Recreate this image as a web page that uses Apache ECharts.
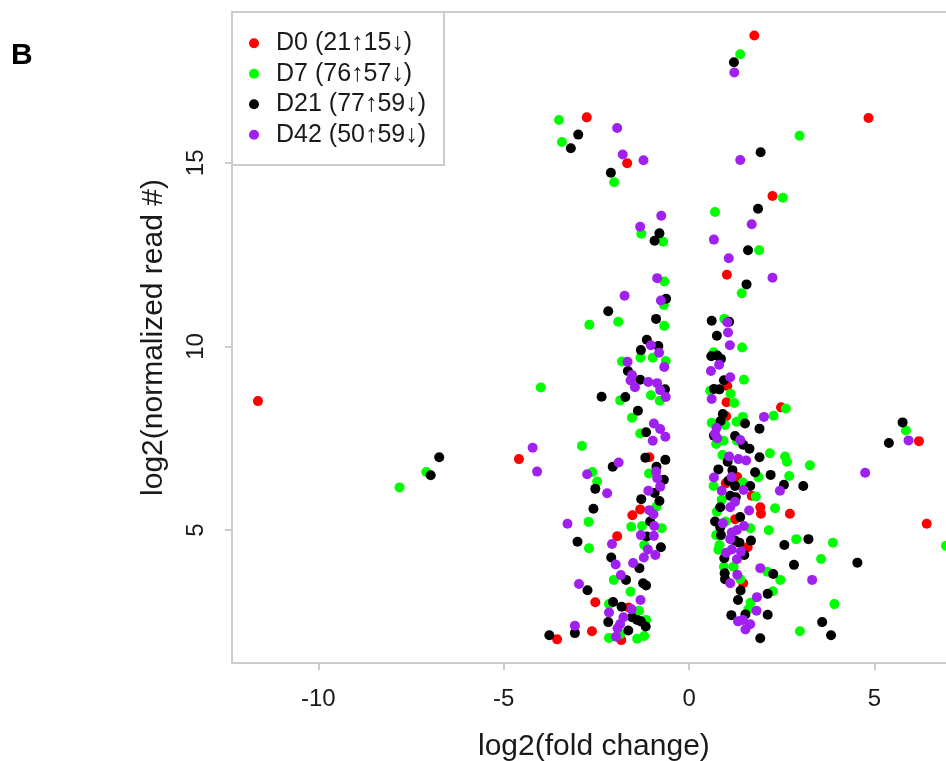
<!DOCTYPE html>
<html>
<head>
<meta charset="utf-8">
<script src="https://cdn.jsdelivr.net/npm/echarts@6/dist/echarts.min.js"></script>
<style>
html,body{margin:0;padding:0;background:#fff;}
#chart{width:946px;height:761px;}
</style>
</head>
<body>
<div id="chart"></div>
<script>
// Axis ticks
const xTicks = [-10, -5, 0, 5];
const yTicks = [5, 10, 15];
const seriesNames = ['D0 (21\u219115\u2193)', 'D7 (76\u219157\u2193)', 'D21 (77\u219159\u2193)', 'D42 (50\u219159\u2193)'];
const seriesColors = ['#FF0000', '#00FF00', '#000000', '#A020F0'];

// [log2 fold change, log2 normalized read #]
const d0 = [
  [1.76,18.47],[-2.76,16.24],[-1.67,14.99],[4.84,16.22],[2.25,14.10],[-11.63,8.51],[1.02,11.95],
  [1.03,8.92],[1.01,8.48],[2.48,8.34],[1.00,8.10],[6.20,7.42],[6.41,5.17],[-4.59,6.93],[-3.56,2.02],
  [-1.07,6.98],[-1.32,5.56],[-1.53,5.40],[-1.94,4.83],[-2.53,3.03],[-1.63,2.89],[-2.62,2.24],[-1.83,2.00],
  [1.30,6.44],[0.99,6.27],[1.69,5.93],[1.92,5.62],[1.94,5.44],[2.72,5.44],[1.24,5.29],[1.58,4.53],[1.46,3.55]
];
const d7 = [
  [1.38,17.96],[-3.51,16.17],[-3.43,15.57],[-2.02,14.47],[2.98,15.74],[2.53,14.05],[-1.29,13.07],[-0.70,12.85],
  [-0.67,11.77],[-0.68,11.13],[-2.69,10.59],[-1.91,10.67],[-0.67,10.56],[-1.31,9.69],[-0.98,9.69],[-1.81,9.59],
  [-0.63,9.60],[-1.86,8.53],[-1.03,8.67],[-0.79,8.52],[-1.54,8.06],[-1.32,7.63],[-2.89,7.29],[-4.00,8.88],
  [0.70,13.66],[1.89,12.62],[1.42,11.45],[0.95,10.75],[1.43,9.97],[0.66,9.84],[1.48,9.09],[0.57,8.79],
  [1.12,8.71],[1.22,8.46],[2.61,8.31],[0.61,7.92],[1.45,8.08],[1.28,7.95],[2.28,8.11],[0.97,7.86],
  [5.85,7.71],[6.93,4.57],[3.88,4.65],[3.56,4.21],[3.92,2.98],[-7.09,6.58],[-7.81,6.16],[-2.61,6.58],
  [-2.48,6.32],[-1.08,6.54],[-0.88,5.63],[-2.71,5.22],[-1.56,5.09],[-1.27,5.11],[-0.74,5.05],[-1.21,4.59],
  [-2.70,4.50],[-2.03,3.64],[-1.58,3.32],[-2.16,2.98],[-1.35,2.80],[-1.16,2.55],[-2.16,2.06],[-1.40,2.04],
  [-1.21,2.11],[-1.86,2.16],[0.73,7.34],[0.93,7.43],[1.29,7.43],[0.90,7.04],[2.18,7.09],[2.59,7.00],
  [2.64,6.86],[3.26,6.76],[1.87,6.44],[2.70,6.47],[0.66,6.20],[1.45,6.29],[1.80,5.91],[0.88,5.82],
  [2.32,5.59],[0.75,5.50],[0.99,5.23],[1.65,5.05],[2.15,4.99],[0.73,4.86],[2.89,4.75],[0.82,4.59],
  [0.79,4.46],[0.94,4.00],[1.20,4.00],[2.11,3.86],[2.46,3.64],[1.38,3.66],[2.26,3.33],[1.66,3.02],
  [1.60,2.84],[2.99,2.24]
];
const d21 = [
  [1.21,17.74],[-2.99,15.77],[-3.19,15.40],[-2.11,14.73],[1.93,15.29],[-0.80,13.08],[-0.93,12.88],[-0.62,11.30],
  [-2.18,10.96],[-0.89,10.75],[-1.14,10.18],[-0.83,10.01],[-1.30,9.90],[-1.65,9.33],[-1.32,9.09],[-0.65,8.83],
  [-2.36,8.63],[-1.72,8.62],[-1.38,8.25],[-1.16,7.66],[1.86,13.75],[1.59,12.62],[1.55,11.69],[0.61,10.70],
  [1.08,10.67],[0.75,10.29],[0.60,9.73],[0.76,9.75],[0.86,9.66],[0.94,9.08],[0.67,8.84],[0.82,8.83],
  [0.91,8.16],[0.85,7.97],[1.51,7.90],[1.90,7.76],[5.76,7.93],[5.39,7.37],[4.54,4.11],[3.59,2.49],
  [3.83,2.13],[-6.74,6.98],[-6.97,6.49],[-3.01,4.68],[-2.74,3.36],[-3.08,2.19],[-3.77,2.13],[-2.06,6.72],
  [-2.53,6.12],[-1.18,6.97],[-0.64,6.91],[-0.88,6.72],[-0.68,6.37],[-0.93,6.01],[-1.29,5.84],[-0.80,5.79],
  [-2.58,5.58],[-1.05,5.23],[-1.14,4.82],[-0.76,4.53],[-2.10,4.25],[-1.34,3.96],[-1.70,3.64],[-1.24,3.55],
  [-1.16,3.49],[-2.05,3.04],[-1.82,2.91],[-1.54,2.62],[-1.40,2.55],[-1.30,2.51],[-2.18,2.49],[-1.17,2.37],
  [-1.64,2.26],[0.67,7.57],[1.24,7.56],[1.46,7.32],[1.63,7.21],[1.04,6.86],[1.90,6.98],[0.79,6.65],
  [1.17,6.63],[1.78,6.57],[2.20,6.50],[1.06,6.34],[1.24,6.20],[1.65,6.20],[2.56,6.23],[3.08,6.20],
  [1.11,5.93],[1.26,5.89],[0.84,5.62],[1.38,5.35],[0.70,5.23],[0.84,5.07],[0.86,4.86],[1.67,4.71],
  [3.22,4.75],[1.24,4.71],[1.36,4.65],[2.57,4.59],[1.49,4.32],[0.95,4.23],[2.83,4.05],[2.27,3.80],
  [0.96,3.82],[0.97,3.66],[1.39,3.35],[2.12,3.26],[1.32,3.09],[2.12,2.69],[1.14,2.68],[1.52,2.70],
  [1.92,2.05]
];
const d42 = [
  [1.22,17.46],[-1.94,15.95],[-1.79,15.23],[-1.23,15.07],[1.38,15.08],[-0.75,13.56],[-1.32,13.26],[-0.86,11.86],
  [-1.74,11.38],[-0.76,11.25],[-1.03,10.03],[-0.81,9.83],[-1.66,9.58],[-0.67,9.44],[-1.54,9.22],[-1.58,9.07],
  [-1.10,9.03],[-0.86,9.00],[-1.46,8.89],[-0.78,8.81],[-0.63,8.62],[-0.95,7.90],[-0.78,7.75],[-0.64,7.54],
  [-0.98,7.43],[-4.22,7.24],[1.69,13.33],[0.67,12.91],[1.07,12.40],[2.25,11.87],[1.03,10.66],[1.05,10.38],
  [1.10,10.03],[0.81,9.50],[0.59,9.33],[1.11,9.16],[0.61,8.57],[2.02,8.08],[0.74,7.78],[5.92,7.44],
  [4.75,6.56],[-4.10,6.59],[-2.75,6.52],[-3.28,5.17],[-2.97,3.53],[-3.08,2.39],[-1.90,6.84],[-2.21,6.00],
  [-0.89,6.59],[-0.86,6.41],[-0.78,6.18],[-1.10,6.07],[-1.07,5.54],[-0.96,5.43],[-0.94,5.11],[-1.30,4.86],
  [-0.95,4.84],[-2.08,4.62],[-1.11,4.47],[-0.91,4.32],[-1.22,4.25],[-1.51,4.10],[-1.98,4.06],[-1.84,3.77],
  [-1.31,3.09],[-1.55,2.84],[-2.16,2.75],[-1.77,2.62],[-1.86,2.44],[-1.93,2.32],[-1.97,2.09],[0.70,7.62],
  [0.76,7.50],[1.38,7.45],[1.08,7.00],[1.33,6.93],[1.54,6.89],[0.67,6.43],[1.15,6.44],[2.45,6.07],
  [0.88,6.07],[1.47,6.09],[1.24,5.77],[1.11,5.62],[1.62,5.53],[0.91,5.18],[1.48,5.11],[1.29,5.00],
  [1.15,4.93],[1.11,4.75],[1.00,4.38],[1.15,4.47],[1.40,4.41],[1.29,4.20],[1.92,3.96],[1.30,3.78],
  [3.32,3.64],[1.11,3.55],[1.83,3.17],[1.82,2.80],[1.32,2.51],[1.45,2.55],[1.65,2.43],[1.52,2.29]
];
const allData = [d0, d7, d21, d42];

const FONT = "'Liberation Sans', Arial, sans-serif";
const GREY = '#cccccc';
const TXT = '#1a1a1a';

const chart = echarts.init(document.getElementById('chart'), null, {renderer: 'canvas'});
chart.setOption({
  animation: false,
  backgroundColor: '#ffffff',
  grid: {
    left: 232, top: 12, width: 723.8, height: 651,
    outerBoundsMode: 'none', containLabel: false,
    show: true, borderColor: GREY, borderWidth: 2, backgroundColor: 'transparent'
  },
  graphic: [{
    type: 'text', left: 11, top: 41,
    style: {text: 'B', font: 'bold 30px ' + FONT, fill: '#000'}
  }],
  legend: {
    orient: 'vertical', left: 232, top: 12,
    padding: [16, 18, 15, 17],
    itemGap: 0, itemWidth: 10, itemHeight: 10, icon: 'circle',
    borderColor: GREY, borderWidth: 2, backgroundColor: '#fff',
    textStyle: {fontSize: 25, lineHeight: 30.5, padding: [0, 0, 0, 12], color: TXT, fontFamily: FONT},
    data: seriesNames
  },
  xAxis: {
    type: 'value', min: -12.33, max: 7.195,
    axisLine: {show: true, onZero: false, lineStyle: {color: GREY, width: 2}},
    axisTick: {show: true, customValues: xTicks, length: 7, lineStyle: {color: GREY, width: 2}},
    axisLabel: {customValues: xTicks, fontSize: 24, color: TXT, margin: 24, fontFamily: FONT},
    splitLine: {show: false},
    name: 'log2(fold change)', nameLocation: 'middle', nameGap: 69,
    nameTextStyle: {fontSize: 30, color: TXT, fontFamily: FONT}
  },
  yAxis: {
    type: 'value', min: 1.376, max: 19.11,
    axisLine: {show: true, onZero: false, lineStyle: {color: GREY, width: 2}},
    axisTick: {show: true, customValues: yTicks, length: 7, lineStyle: {color: GREY, width: 2}},
    axisLabel: {customValues: yTicks, fontSize: 24, color: TXT, margin: 24, rotate: 90, fontFamily: FONT},
    splitLine: {show: false},
    name: 'log2(normalized read #)', nameLocation: 'middle', nameGap: 63, nameRotate: 90,
    nameTextStyle: {fontSize: 30, color: TXT, fontFamily: FONT}
  },
  series: allData.map((d, i) => ({
    type: 'scatter', name: seriesNames[i], data: d,
    symbol: 'circle', symbolSize: 10,
    itemStyle: {color: seriesColors[i], opacity: 1},
    z: 2 + i
  }))
});
</script>
</body>
</html>
